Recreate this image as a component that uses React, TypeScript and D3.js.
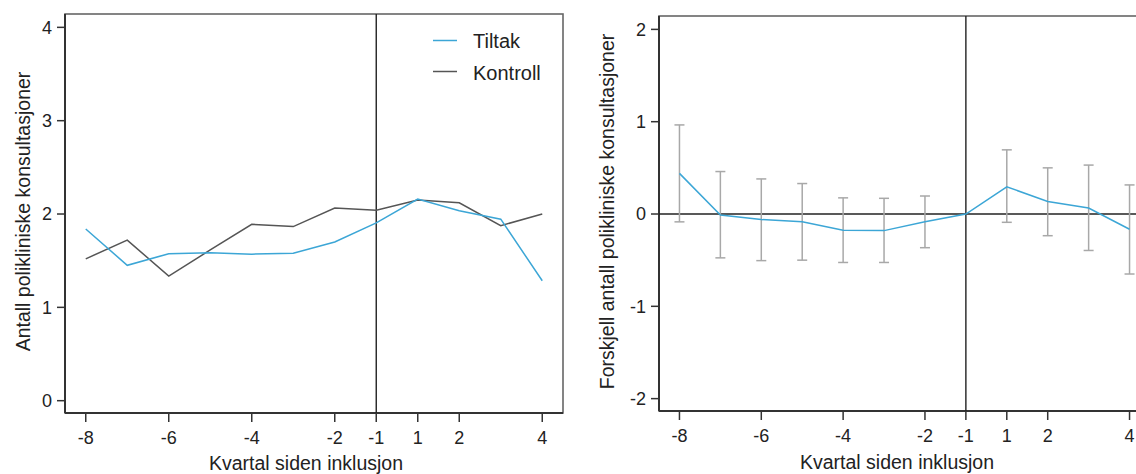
import React from "react";
import * as d3 from "d3";

// quarters relative to inclusion (no quarter 0)
const quarters = [-8, -7, -6, -5, -4, -3, -2, -1, 1, 2, 3, 4];
const tickQuarters = [-8, -6, -4, -2, -1, 1, 2, 4];

// left panel: mean number of outpatient consultations
const tiltak = [1.84, 1.45, 1.575, 1.585, 1.57, 1.58, 1.7, 1.905, 2.16, 2.035, 1.945, 1.285];
const kontroll = [1.52, 1.72, 1.335, 1.615, 1.89, 1.865, 2.065, 2.04, 2.15, 2.12, 1.875, 2.0];
const leftTicks = [0, 1, 2, 3, 4];

// right panel: difference with confidence interval
const diff = [0.44, -0.01, -0.06, -0.085, -0.175, -0.18, -0.085, 0, 0.295, 0.135, 0.065, -0.165];
const diffUpper = [0.965, 0.46, 0.38, 0.33, 0.175, 0.17, 0.195, null, 0.695, 0.5, 0.53, 0.315];
const diffLower = [-0.085, -0.475, -0.505, -0.5, -0.525, -0.525, -0.365, null, -0.09, -0.235, -0.395, -0.65];
const rightTicks = [-2, -1, 0, 1, 2];

const BLUE = "#3ca6d6";
const GREY = "#555555";
const FONT = "'Liberation Sans', Arial, sans-serif";

type PanelProps = {
  left: number;
  right: number;
  top: number;
  bottom: number;
  yDomain: [number, number];
  yTicks: number[];
  yTitle: string;
  yTitleX: number;
  xTitleX: number;
  xTitleY: number;
  children: (x: (q: number) => number, y: d3.ScaleLinear<number, number>) => React.ReactNode;
};

const Panel = (p: PanelProps) => {
  const xs = d3
    .scalePoint<string>()
    .domain(quarters.map(String))
    .range([p.left, p.right])
    .padding(0.5);
  const x = (q: number) => xs(String(q)) as number;
  const y = d3.scaleLinear().domain(p.yDomain).range([p.bottom, p.top]);
  const midY = (p.top + p.bottom) / 2 - 2;

  return (
    <g>
      {/* frame */}
      <rect x={p.left} y={p.top} width={p.right - p.left} height={p.bottom - p.top} fill="none" stroke="#666" strokeWidth={1.6} />
      <line x1={p.left} x2={p.left} y1={p.top} y2={p.bottom} stroke="#333" strokeWidth={2} />
      <line x1={p.left} x2={p.right} y1={p.bottom} y2={p.bottom} stroke="#333" strokeWidth={2} />

      {/* y axis */}
      {p.yTicks.map((t) => (
        <g key={"y" + t}>
          <line x1={p.left - 8} x2={p.left} y1={y(t)} y2={y(t)} stroke="#333" strokeWidth={1.5} />
          <text x={p.left - 13} y={y(t)} dy="0.36em" textAnchor="end" fontSize={18} fill="#222">
            {t}
          </text>
        </g>
      ))}

      {/* x axis */}
      {tickQuarters.map((q) => (
        <g key={"x" + q}>
          <line x1={x(q)} x2={x(q)} y1={p.bottom} y2={p.bottom + 9} stroke="#333" strokeWidth={1.5} />
          <text x={x(q)} y={p.bottom + 31} textAnchor="middle" fontSize={18} fill="#222">
            {q}
          </text>
        </g>
      ))}

      {/* inclusion line */}
      <line x1={x(-1)} x2={x(-1)} y1={p.top} y2={p.bottom} stroke="#222" strokeWidth={1.4} />

      {p.children(x, y)}

      <text x={p.xTitleX} y={p.xTitleY} textAnchor="middle" fontSize={19.5} fill="#222">
        Kvartal siden inklusjon
      </text>
      <text
        transform={`translate(${p.yTitleX},${midY}) rotate(-90)`}
        textAnchor="middle"
        fontSize={19.5}
        fill="#222"
      >
        {p.yTitle}
      </text>
    </g>
  );
};

const App = () => {
  const lineOf = (x: (q: number) => number, y: d3.ScaleLinear<number, number>) =>
    d3
      .line<number>()
      .x((_, i) => x(quarters[i]))
      .y((d) => y(d));

  return (
    <svg
      width={1136}
      height={474}
      style={{ position: "absolute", left: 0, top: 0, background: "#fff", fontFamily: FONT }}
    >
      <rect width={1136} height={474} fill="#fff" />
      <Panel
        left={65}
        right={563}
        top={14}
        bottom={413}
        yDomain={[-0.132, 4.143]}
        yTicks={leftTicks}
        yTitle="Antall polikliniske konsultasjoner"
        yTitleX={29.5}
        xTitleX={306}
        xTitleY={470}
      >
        {(x, y) => {
          const line = lineOf(x, y);
          return (
            <g>
              <path d={line(kontroll) || ""} fill="none" stroke={GREY} strokeWidth={1.5} />
              <path d={line(tiltak) || ""} fill="none" stroke={BLUE} strokeWidth={1.5} />
              {/* legend */}
              <line x1={433} x2={457} y1={40.5} y2={40.5} stroke={BLUE} strokeWidth={1.5} />
              <text x={473} y={47.5} fontSize={20} fill="#222">Tiltak</text>
              <line x1={433} x2={457} y1={71.5} y2={71.5} stroke={GREY} strokeWidth={1.5} />
              <text x={473} y={79.5} fontSize={20} fill="#222">Kontroll</text>
            </g>
          );
        }}
      </Panel>
      <Panel
        left={659}
        right={1150}
        top={16}
        bottom={411}
        yDomain={[-2.134, 2.145]}
        yTicks={rightTicks}
        yTitle="Forskjell antall polikliniske konsultasjoner"
        yTitleX={613.5}
        xTitleX={897}
        xTitleY={469}
      >
        {(x, y) => {
          const line = lineOf(x, y);
          return (
            <g>
              <line x1={659} x2={1150} y1={y(0)} y2={y(0)} stroke="#222" strokeWidth={1.4} />
              {quarters.map((q, i) => {
                const hi = diffUpper[i];
                const lo = diffLower[i];
                if (hi === null || lo === null) return null;
                return (
                  <g key={"e" + q} stroke="#a8a8a8" strokeWidth={1.5}>
                    <line x1={x(q)} x2={x(q)} y1={y(hi)} y2={y(lo)} />
                    <line x1={x(q) - 5} x2={x(q) + 5} y1={y(hi)} y2={y(hi)} />
                    <line x1={x(q) - 5} x2={x(q) + 5} y1={y(lo)} y2={y(lo)} />
                  </g>
                );
              })}
              <path d={line(diff) || ""} fill="none" stroke={BLUE} strokeWidth={1.5} />
            </g>
          );
        }}
      </Panel>
    </svg>
  );
};

export default App;
